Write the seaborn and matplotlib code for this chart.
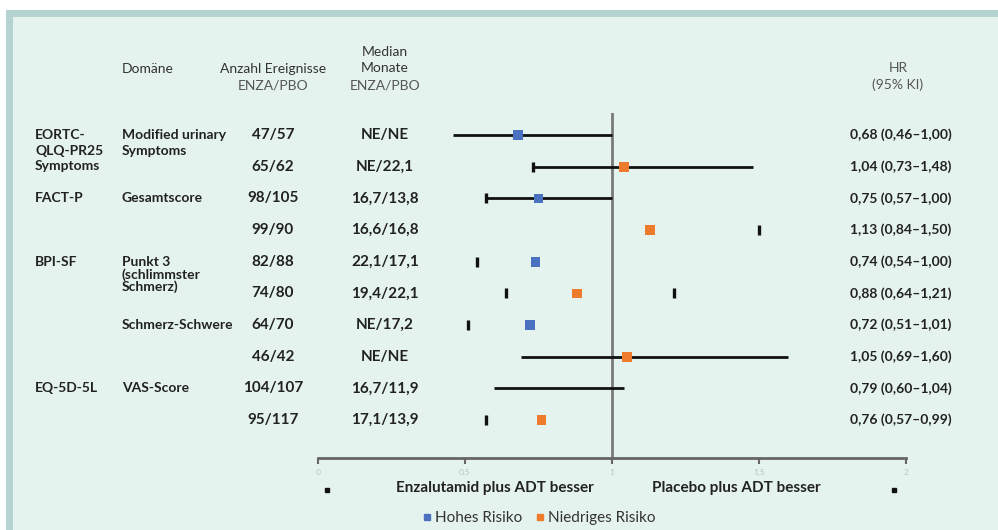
import numpy as np
import pandas as pd
import seaborn as sns
import matplotlib.pyplot as plt
import matplotlib.transforms as mtransforms
from matplotlib.patches import Rectangle
from matplotlib.lines import Line2D

sns.set_theme(style="white")
plt.rcParams['font.family'] = ['Lato', 'DejaVu Sans']

# Daten
instrument = ["EORTC-\nQLQ-PR25\nSymptoms", "", "FACT-P", "", "BPI-SF", "", "", "", "EQ-5D-5L", ""]
domaene = ["Modified urinary\nSymptoms", "", "Gesamtscore", "", "Punkt 3\n(schlimmster\nSchmerz)", "",
           "Schmerz-Schwere", "", "VAS-Score", ""]
ereignisse = ["47/57", "65/62", "98/105", "99/90", "82/88", "74/80", "64/70", "46/42", "104/107", "95/117"]
median = ["NE/NE", "NE/22,1", "16,7/13,8", "16,6/16,8", "22,1/17,1", "19,4/22,1", "NE/17,2", "NE/NE",
          "16,7/11,9", "17,1/13,9"]
hr = [0.68, 1.04, 0.75, 1.13, 0.74, 0.88, 0.72, 1.05, 0.79, 0.76]
ki_unten = [0.46, 0.73, 0.57, 0.84, 0.54, 0.64, 0.51, 0.69, 0.60, 0.57]
ki_oben = [1.00, 1.48, 1.00, 1.50, 1.00, 1.21, 1.01, 1.60, 1.04, 0.99]
risiko = ["Hohes Risiko", "Niedriges Risiko"] * 5
hr_text = ["0,68 (0,46–1,00)", "1,04 (0,73–1,48)", "0,75 (0,57–1,00)", "1,13 (0,84–1,50)",
           "0,74 (0,54–1,00)", "0,88 (0,64–1,21)", "0,72 (0,51–1,01)", "1,05 (0,69–1,60)",
           "0,79 (0,60–1,04)", "0,76 (0,57–0,99)"]
x_ticks = [0, 0.5, 1, 1.5, 2]
x_ticklabels = ["0", "0,5", "1", "1,5", "2"]

# wie im Original: manche KI nur als Endstriche, ein Punkt fehlt
volle_linie = [True, True, True, False, False, False, False, True, True, False]
strich_links = [False, True, True, False, True, True, True, False, False, True]
strich_rechts = [False, False, False, True, False, True, False, False, False, False]
zeige_punkt = [True, True, True, True, True, True, True, True, False, True]

df = pd.DataFrame({"zeile": np.arange(len(hr)), "hr": hr, "lo": ki_unten, "hi": ki_oben,
                   "risiko": risiko, "voll": volle_linie, "sl": strich_links, "sr": strich_rechts,
                   "punkt": zeige_punkt})

farben = {"Hohes Risiko": "#4a72c0", "Niedriges Risiko": "#ee7a2c"}
rand = "#b4d3d1"
flaeche = "#e5f3ef"
W, H = 998, 530

fig = plt.figure(figsize=(W / 100, H / 100), dpi=100)
fig.patch.set_facecolor("white")
fig.patches.append(Rectangle((6 / W, 0), 1, 1 - 10 / H, transform=fig.transFigure,
                             facecolor=rand, edgecolor="none", zorder=-3))
fig.patches.append(Rectangle((13 / W, 0), 1, 1 - 17 / H, transform=fig.transFigure,
                             facecolor=flaeche, edgecolor="none", zorder=-2))

# Forest-Plot Achse: x 0..2 von px 318 bis 906, Zeilen bei y=135..420
y0, y1 = 113, 458
ax = fig.add_axes([318 / W, 1 - y1 / H, (906 - 318) / W, (y1 - y0) / H])
ax.set_facecolor("none")
ax.set_xlim(0, 2)
ax.set_ylim(10.2, -0.7)

voll = df[df.voll]
ax.hlines(voll.zeile, voll.lo, voll.hi, color="#111111", lw=2, zorder=2)
links = df[df.sl]
ax.plot(links.lo, links.zeile, ls="none", marker="|", ms=7, mew=2.4, color="#111111", zorder=2)
rechts = df[df.sr]
ax.plot(rechts.hi, rechts.zeile, ls="none", marker="|", ms=7, mew=2.4, color="#111111", zorder=2)

ax.axvline(1, color="#7a7a7a", lw=2, zorder=1)
sns.scatterplot(data=df[df.punkt], x="hr", y="zeile", hue="risiko", palette=farben, marker="s",
                s=50, edgecolor="none", legend=False, ax=ax, zorder=3)

for s in ["top", "right", "left"]:
    ax.spines[s].set_visible(False)
ax.spines["bottom"].set_color("#666666")
ax.spines["bottom"].set_linewidth(2)
ax.set_yticks([])
ax.set_xticks(x_ticks)
ax.set_xticklabels(x_ticklabels, fontsize=6, color="#b9c4c2")
ax.tick_params(axis="x", bottom=True, direction="out", length=4, width=1.5, color="#666666", pad=4)
ax.set_xlabel("")
ax.set_ylabel("")

# Tabellenspalten
tr = mtransforms.blended_transform_factory(fig.transFigure, ax.transData)
txt = "#222222"
zeilen_px = (420 - 135) / 9
for i in range(len(hr)):
    for j, t in enumerate(instrument[i].split("\n") if instrument[i] else []):
        ax.text(35 / W, i + j * 15.5 / zeilen_px, t, transform=tr, ha="left", va="center", fontsize=10,
                fontweight="bold", color=txt, clip_on=False)
    abstand = 12.5 if i == 4 else 15.5
    for j, t in enumerate(domaene[i].split("\n") if domaene[i] else []):
        ax.text(122 / W, i + j * abstand / zeilen_px, t, transform=tr, ha="left", va="center", fontsize=10,
                fontweight="bold", color=txt, clip_on=False)
    ax.text(273 / W, i, ereignisse[i], transform=tr, ha="center", va="center", fontsize=11,
            fontweight="bold", color=txt, clip_on=False)
    ax.text(385 / W, i, median[i], transform=tr, ha="center", va="center", fontsize=11,
            fontweight="bold", color=txt, clip_on=False)
    ax.text(901 / W, i, hr_text[i], transform=tr, ha="center", va="center", fontsize=10,
            fontweight="bold", color=txt, clip_on=False)

# Kopfzeile
kopf = "#333333"
fig.text(122 / W, 1 - 69 / H, "Domäne", ha="left", va="center", fontsize=10, color=kopf)
fig.text(273 / W, 1 - 69 / H, "Anzahl Ereignisse", ha="center", va="center", fontsize=10, color=kopf)
fig.text(273 / W, 1 - 85 / H, "ENZA/PBO", ha="center", va="center", fontsize=10, color="#555555")
fig.text(385 / W, 1 - 52 / H, "Median", ha="center", va="center", fontsize=10, color=kopf)
fig.text(385 / W, 1 - 68 / H, "Monate", ha="center", va="center", fontsize=10, color=kopf)
fig.text(385 / W, 1 - 85 / H, "ENZA/PBO", ha="center", va="center", fontsize=10, color="#555555")
fig.text(898 / W, 1 - 68 / H, "HR", ha="center", va="center", fontsize=10, color="#555555")
fig.text(898 / W, 1 - 85 / H, "(95% KI)", ha="center", va="center", fontsize=10, color="#555555")

# Beschriftung unter der Achse
fig.text(495 / W, 1 - 488 / H, "Enzalutamid plus ADT besser", ha="center", va="center",
         fontsize=11, fontweight="bold", color=txt)
fig.text(736 / W, 1 - 488 / H, "Placebo plus ADT besser", ha="center", va="center",
         fontsize=11, fontweight="bold", color=txt)
fig.add_artist(Line2D([327 / W], [1 - 490 / H], marker="s", ms=3.5, color="#111111", transform=fig.transFigure))
fig.add_artist(Line2D([894 / W], [1 - 490 / H], marker="s", ms=3.5, color="#111111", transform=fig.transFigure))

# Legende
griffe = [Line2D([], [], ls="none", marker="s", ms=4.5, color=farben[k]) for k in farben]
fig.legend(griffe, list(farben), loc="center", bbox_to_anchor=(538 / W, 1 - 518 / H), ncol=2,
           frameon=False, fontsize=11, handletextpad=0.1, columnspacing=0.8, handlelength=0.8,
           labelcolor="#333333")

fig.savefig("out.png", dpi=100, facecolor=fig.get_facecolor())
